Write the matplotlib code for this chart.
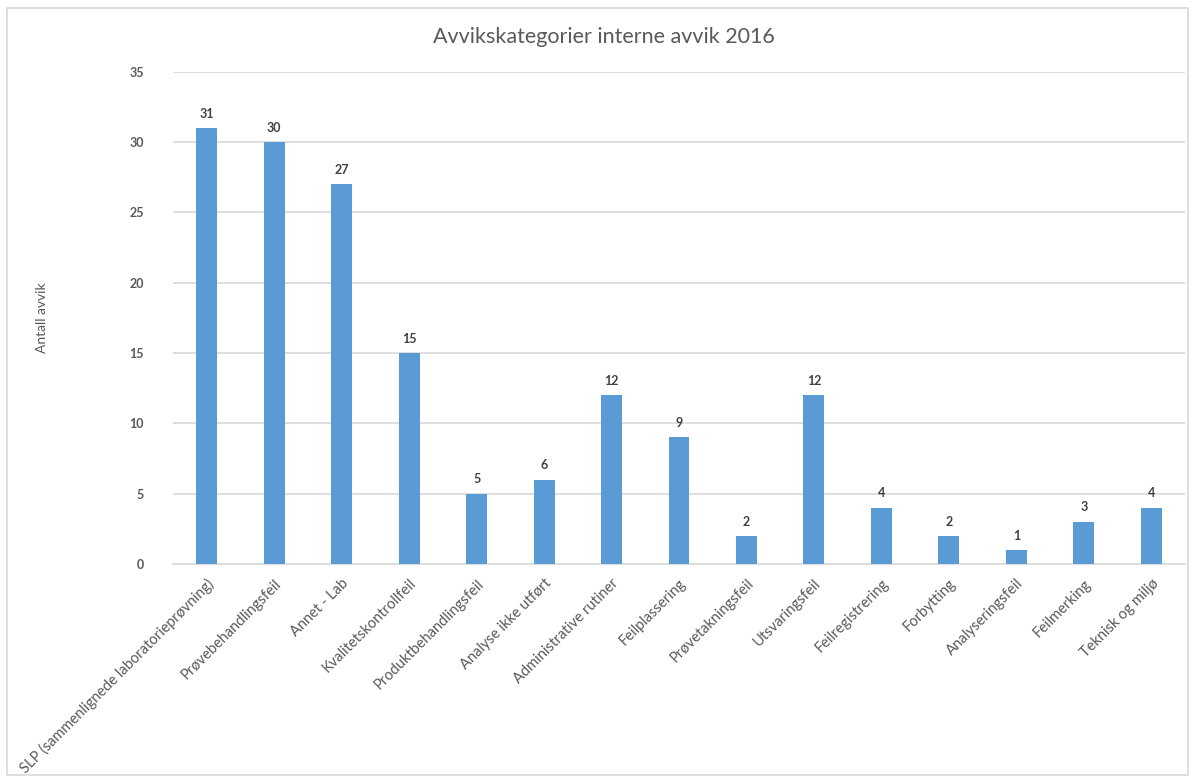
import matplotlib
matplotlib.use("Agg")
import matplotlib.pyplot as plt
from matplotlib.patches import Rectangle

categories = [
    "SLP (sammenlignede laboratorieprøvning)",
    "Prøvebehandlingsfeil",
    "Annet - Lab",
    "Kvalitetskontrollfeil",
    "Produktbehandlingsfeil",
    "Analyse ikke utført",
    "Administrative rutiner",
    "Feilplassering",
    "Prøvetakningsfeil",
    "Utsvaringsfeil",
    "Feilregistrering",
    "Forbytting",
    "Analyseringsfeil",
    "Feilmerking",
    "Teknisk og miljø",
]
values = [31, 30, 27, 15, 5, 6, 12, 9, 2, 12, 4, 2, 1, 3, 4]
yticks = [0, 5, 10, 15, 20, 25, 30, 35]

plt.rcParams['font.family'] = ['Lato', 'DejaVu Sans']

W, H = 1196, 781
fig = plt.figure(figsize=(W / 100, H / 100), dpi=100)
fig.patch.set_facecolor('white')

# chart border
fig.patches.append(Rectangle((7 / W, 1 - 775 / H), (1188 - 7) / W, (775 - 8) / H,
                             transform=fig.transFigure, fill=False,
                             edgecolor='#D9D9D9', linewidth=1.2))

left, right, top, bottom = 173, 1185, 71.7, 564
ax = fig.add_axes([left / W, 1 - bottom / H, (right - left) / W, (bottom - top) / H])

x = list(range(len(categories)))
bars = ax.bar(x, values, width=0.31, color='#5B9BD5', zorder=3)

ax.set_xlim(-0.5, len(categories) - 0.5)
ax.set_ylim(0, 35)
ax.set_yticks(yticks)
ax.set_yticklabels([str(t) for t in yticks], fontsize=9, fontweight='bold', color='#595959')
ax.yaxis.grid(True, color='#D9D9D9', linewidth=1.2, zorder=0)
ax.set_axisbelow(True)
for s in ['top', 'right', 'left']:
    ax.spines[s].set_visible(False)
ax.spines['bottom'].set_color('#D9D9D9')
ax.spines['bottom'].set_linewidth(1.2)
ax.tick_params(axis='both', length=0)
ax.tick_params(axis='y', pad=21)

ax.set_xticks(x)
ax.set_xticklabels(categories, rotation=45, ha='right', rotation_mode='anchor',
                   fontsize=10.5, color='#595959')
ax.tick_params(axis='x', pad=9)

for xi, v in zip(x, values):
    ax.annotate(str(v), (xi, v), xytext=(0, 6), textcoords='offset points',
                ha='center', va='bottom', fontsize=9, fontweight='bold', color='#404040')

fig.text(604 / W, 1 - 37 / H, "Avvikskategorier interne avvik 2016", ha='center', va='center',
         fontsize=15.5, color='#595959')
fig.text(42 / W, 1 - 318 / H, "Antall avvik", rotation=90, ha='center', va='center',
         fontsize=10, color='#595959')

fig.savefig("out.png", dpi=100, facecolor='white')
